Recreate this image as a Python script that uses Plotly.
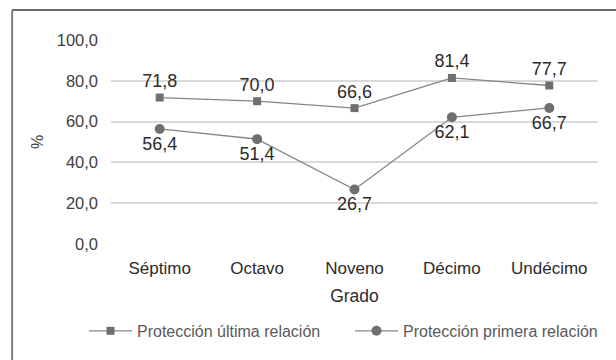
import plotly.graph_objects as go

# Grades on the x axis and the two protection series (%)
grados = ["Séptimo", "Octavo", "Noveno", "Décimo", "Undécimo"]
ultima_relacion = [71.8, 70.0, 66.6, 81.4, 77.7]
primera_relacion = [56.4, 51.4, 26.7, 62.1, 66.7]
y_ticks = [0, 20, 40, 60, 80, 100]
y_tick_labels = ["0,0", "20,0", "40,0", "60,0", "80,0", "100,0"]

FONT = "Liberation Sans, Arial, sans-serif"
LINE = "#858585"
MARK = "#6f6f6f"


def fmt(v):
    return f"{v:.1f}".replace(".", ",")


fig = go.Figure()
fig.add_trace(go.Scatter(
    x=grados, y=ultima_relacion, name="Protección última relación",
    mode="lines+markers+text",
    line=dict(color=LINE, width=1.3),
    marker=dict(symbol="square", size=8, color=MARK),
    text=[fmt(v) for v in ultima_relacion],
    textposition="top center",
    textfont=dict(family=FONT, size=18, color="#2b2b2b"),
    cliponaxis=False,
))
fig.add_trace(go.Scatter(
    x=grados, y=primera_relacion, name="Protección primera relación",
    mode="lines+markers+text",
    line=dict(color=LINE, width=1.3),
    marker=dict(symbol="circle", size=10, color=MARK),
    text=[fmt(v) for v in primera_relacion],
    textposition="bottom center",
    textfont=dict(family=FONT, size=18, color="#2b2b2b"),
    cliponaxis=False,
))

# Outer frame of the chart box (left and top edges visible)
fig.add_shape(type="line", xref="paper", yref="paper",
              x0=-0.203, x1=-0.203, y0=-0.6, y1=1.147,
              line=dict(color="#808080", width=2))
fig.add_shape(type="line", xref="paper", yref="paper",
              x0=-0.203, x1=1.1, y0=1.147, y1=1.147,
              line=dict(color="#6a6a6a", width=2))

fig.update_layout(
    width=616, height=360,
    margin=dict(l=111, r=18, t=40, b=116),
    paper_bgcolor="white", plot_bgcolor="white",
    font=dict(family=FONT, color="#404040"),
    showlegend=True,
    legend=dict(
        orientation="h", x=-0.0001, xanchor="left", y=-0.426, yanchor="middle",
        font=dict(family=FONT, size=16, color="#5a5a5a"),
        itemwidth=43, entrywidth=208, bgcolor="rgba(0,0,0,0)",
    ),
    xaxis=dict(
        type="category", range=[-0.5, 4.5],
        showgrid=False, zeroline=False, showline=False,
        tickfont=dict(family=FONT, size=17, color="#2b2b2b"),
        ticklabelstandoff=12,
        title=dict(text="Grado", font=dict(family=FONT, size=17.5, color="#2b2b2b"), standoff=12),
    ),
    yaxis=dict(
        range=[0, 100], tickvals=y_ticks, ticktext=y_tick_labels,
        showgrid=True, gridcolor="#d9d9d9", gridwidth=1.5,
        zeroline=False, showline=False,
        tickfont=dict(family=FONT, size=16.5, color="#404040"),
        ticklabelstandoff=12,
        title=dict(text="%", font=dict(family=FONT, size=16, color="#404040"), standoff=9),
    ),
)

fig.write_html("out.html")
